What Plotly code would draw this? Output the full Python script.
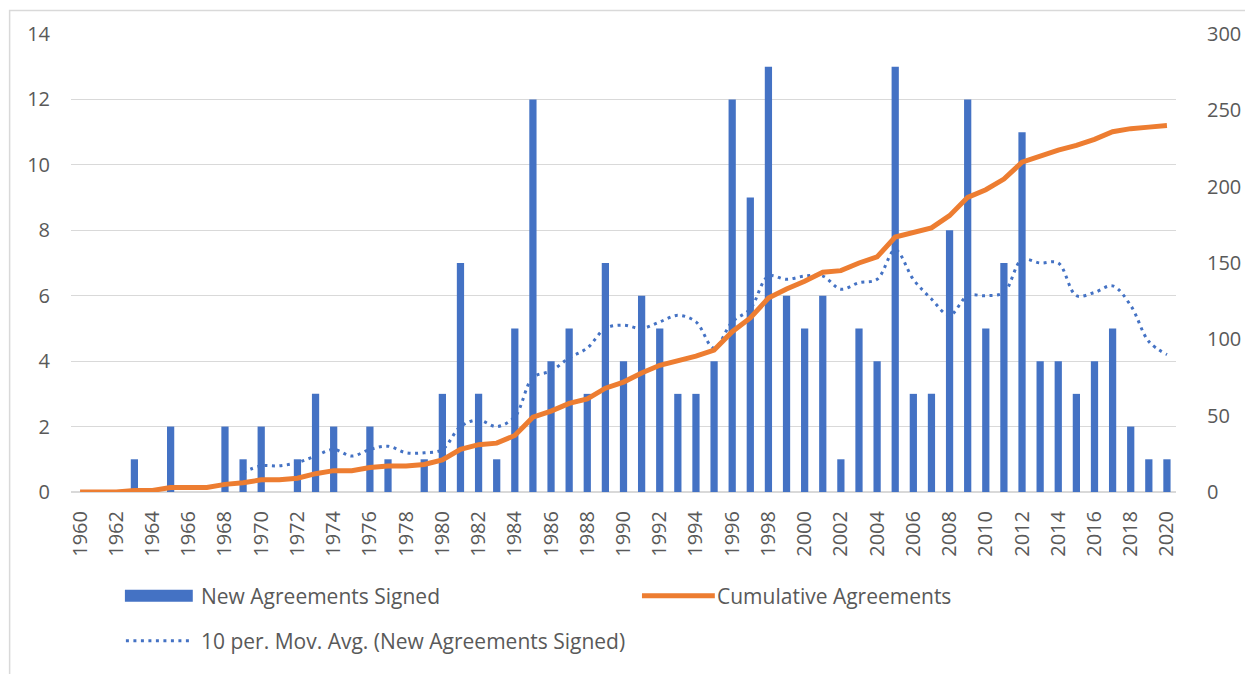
import plotly.graph_objects as go

# Data
years = [str(y) for y in range(1960, 2021)]

new_agreements = [0, 0, 0, 1, 0, 2, 0, 0, 2, 1,
                  2, 0, 1, 3, 2, 0, 2, 1, 0, 1,
                  3, 7, 3, 1, 5, 12, 4, 5, 3, 7,
                  4, 6, 5, 3, 3, 4, 12, 9, 13, 6,
                  5, 6, 1, 5, 4, 13, 3, 3, 8, 12,
                  5, 7, 11, 4, 4, 3, 4, 5, 2, 1,
                  1]

cumulative = [0, 0, 0, 1, 1, 3, 3, 3, 5, 6,
              8, 8, 9, 12, 14, 14, 16, 17, 17, 18,
              21, 28, 31, 32, 37, 49, 53, 58, 61, 68,
              72, 78, 83, 86, 89, 93, 105, 114, 127, 133,
              138, 144, 145, 150, 154, 167, 170, 173, 181, 193,
              198, 205, 216, 220, 224, 227, 231, 236, 238, 239,
              240]

# 10 period moving average (trendline), starts at 1969
ma_years = years[9:]
moving_avg = [0.6, 0.8, 0.8, 0.9, 1.1, 1.3, 1.1, 1.3, 1.4, 1.2,
              1.2, 1.3, 2.0, 2.2, 2.0, 2.3, 3.5, 3.7, 4.1, 4.4,
              5.0, 5.1, 5.0, 5.2, 5.4, 5.2, 4.4, 5.2, 5.6, 6.6,
              6.5, 6.6, 6.6, 6.2, 6.4, 6.5, 7.4, 6.5, 5.9, 5.4,
              6.0, 6.0, 6.1, 7.1, 7.0, 7.0, 6.0, 6.1, 6.3, 5.7,
              4.6, 4.2]

BLUE = '#4472C4'
ORANGE = '#ED7D31'
GREY = '#595959'
GRID = '#D9D9D9'
FONT = 'Open Sans'
DOTS = '3px,4.5px'

fig = go.Figure()

fig.add_trace(go.Bar(x=years, y=new_agreements, name='New Agreements Signed',
                     marker=dict(color=BLUE, line=dict(width=0))))
fig.add_trace(go.Scatter(x=years, y=cumulative, name='Cumulative Agreements',
                         mode='lines', yaxis='y2',
                         line=dict(color=ORANGE, width=5)))
fig.add_trace(go.Scatter(x=ma_years, y=moving_avg,
                         name='10 per. Mov. Avg. (New Agreements Signed)',
                         mode='lines',
                         line=dict(color=BLUE, width=3, dash=DOTS, shape='spline')))

# the page body adds an 8px margin, so work in page pixels minus 8
OFF = 8
FIG_W, FIG_H = 1253 - OFF, 674 - OFF
# plot area in page pixels: x 71..1178, y 33..492
L, R, T, B = 71 - OFF, 1178 - OFF, 33 - OFF, 492 - OFF
W, H = R - L, B - T

def px(x):
    return (x - OFF - L) / W

def py(y):
    return (B - (y - OFF)) / H

fig.update_layout(
    width=FIG_W, height=FIG_H,
    margin=dict(l=L, r=FIG_W - R, t=T, b=FIG_H - B),
    plot_bgcolor='white', paper_bgcolor='white',
    font=dict(family=FONT, size=20, color=GREY),
    showlegend=False,
    bargap=0.6,
    xaxis=dict(type='category', tickvals=years[::2], tickangle=-90,
               showgrid=False, showline=False, zeroline=False,
               ticks='', ticklabelstandoff=14,
               tickfont=dict(size=20)),
    yaxis=dict(range=[0, 14], dtick=2, showgrid=True, gridcolor=GRID,
               gridwidth=1, zeroline=True, zerolinecolor=GRID,
               ticks='', ticklabelstandoff=20, tickfont=dict(size=20)),
    yaxis2=dict(range=[0, 300], dtick=50, overlaying='y', side='right',
                showgrid=False, zeroline=False, ticks='',
                ticklabelstandoff=30, tickfont=dict(size=20)),
)

# chart border (left and top edges are the visible ones)
fig.add_shape(type='rect', xref='paper', yref='paper',
              x0=px(OFF + 1.5), x1=px(1270), y0=py(700), y1=py(OFF + 1.5),
              line=dict(color=GRID, width=1.5), layer='below')

# legend drawn by hand to match the original layout
fig.add_shape(type='rect', xref='paper', yref='paper',
              x0=px(125), x1=px(193), y0=py(602), y1=py(590),
              fillcolor=BLUE, line=dict(width=0))
fig.add_shape(type='line', xref='paper', yref='paper',
              x0=px(643), x1=px(716), y0=py(596), y1=py(596),
              line=dict(color=ORANGE, width=5))
fig.add_shape(type='line', xref='paper', yref='paper',
              x0=px(126), x1=px(193), y0=py(641), y1=py(641),
              line=dict(color=BLUE, width=3, dash=DOTS))

legend_items = [('New Agreements Signed', 199, 596),
                ('Cumulative Agreements', 716, 596),
                ('10 per. Mov. Avg. (New Agreements Signed)', 199, 641)]
for text, x, y in legend_items:
    fig.add_annotation(text=text, xref='paper', yref='paper',
                       x=px(x), y=py(y), xanchor='left', yanchor='middle',
                       showarrow=False, font=dict(size=21, color=GREY))

fig.write_html("out.html")
